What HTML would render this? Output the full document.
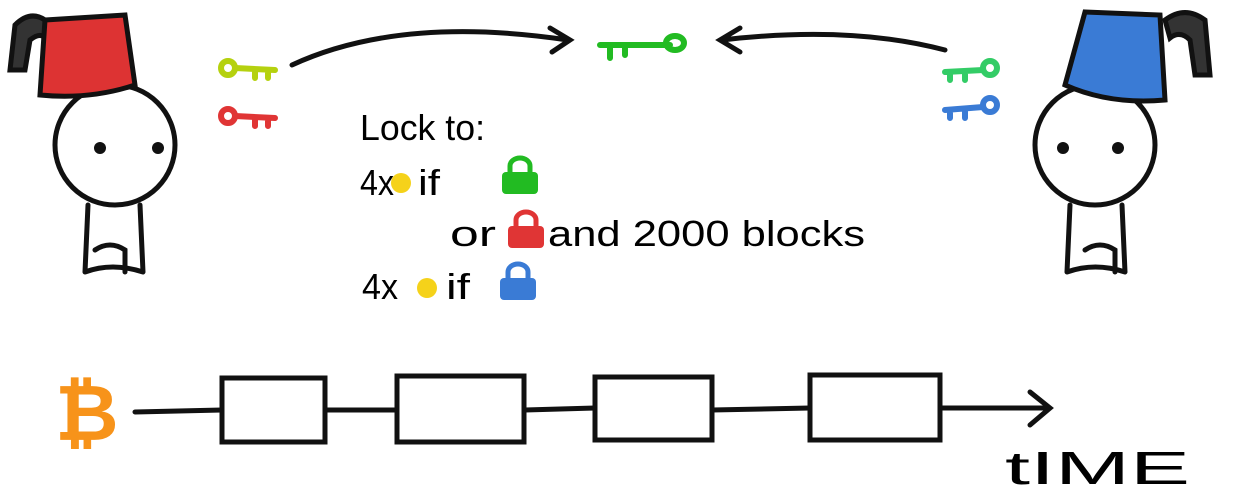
<!DOCTYPE html>
<html><head><meta charset="utf-8"><style>
html,body{margin:0;padding:0;background:#fff;}
svg{display:block;}
text{font-family:"Liberation Sans",sans-serif;fill:#000;}
</style></head><body>
<svg width="1235" height="492" viewBox="0 0 1235 492">
<g stroke="#111" stroke-width="5" fill="#fff" stroke-linecap="round">
  <path d="M88 205 L85 272 M140 205 L143 272 M85 272 Q112 262 143 272" fill="none"/>
  <path d="M95 250 Q110 240 125 250 L125 272" fill="none"/>
  <circle cx="115" cy="145" r="60"/>
  <circle cx="100" cy="148" r="6" fill="#111" stroke="none"/>
  <circle cx="158" cy="148" r="6" fill="#111" stroke="none"/>
  <path d="M45 20 Q30 10 15 25 L10 70 L25 70 L30 40 Q40 32 45 38Z" fill="#333"/>
  <path d="M45 20 L125 15 L135 85 Q90 100 40 95Z" fill="#d33"/>
</g>
<g stroke="#111" stroke-width="5" fill="#fff" stroke-linecap="round">
  <path d="M1070 205 L1067 272 M1122 205 L1125 272 M1067 272 Q1095 262 1125 272" fill="none"/>
  <path d="M1085 250 Q1100 240 1115 250 L1115 272" fill="none"/>
  <circle cx="1095" cy="145" r="60"/>
  <circle cx="1063" cy="148" r="6" fill="#111" stroke="none"/>
  <circle cx="1118" cy="148" r="6" fill="#111" stroke="none"/>
  <path d="M1165 20 Q1185 5 1205 20 L1210 75 L1195 75 L1190 40 Q1180 30 1170 38Z" fill="#333"/>
  <path d="M1085 12 L1160 15 L1165 100 Q1110 105 1065 85Z" fill="#3a7bd5"/>
</g>
<g fill="none" stroke-width="6" stroke-linecap="round">
  <g stroke="#b5d10f"><circle cx="228" cy="68" r="7"/><path d="M235 68 L275 70 M255 70 L255 78 M268 70 L268 78"/></g>
  <g stroke="#e03535"><circle cx="228" cy="116" r="7"/><path d="M235 116 L275 118 M255 118 L255 126 M268 118 L268 126"/></g>
  <g stroke="#22bb22"><path d="M600 45 L670 45 M610 45 L610 58 M625 45 L625 55"/><ellipse cx="675" cy="43" rx="9" ry="7"/></g>
  <g stroke="#33cc66"><circle cx="990" cy="68" r="7"/><path d="M983 70 L945 72 M965 72 L965 80 M950 72 L950 80"/></g>
  <g stroke="#3a7bd5"><circle cx="990" cy="105" r="7"/><path d="M983 107 L945 110 M965 110 L965 118 M950 110 L950 118"/></g>
</g>
<g fill="none" stroke="#111" stroke-width="5" stroke-linecap="round">
  <path d="M292 65 Q400 15 568 40 M550 28 L570 40 L552 52"/>
  <path d="M945 50 Q850 25 722 40 M740 28 L720 40 L740 52"/>
</g>
<g font-size="36">
  <text x="360" y="140" textLength="125" lengthAdjust="spacingAndGlyphs">Lock to:</text>
  <text x="360" y="195" textLength="34" lengthAdjust="spacingAndGlyphs">4x</text>
  <circle cx="401" cy="183" r="10" fill="#f5d21a"/>
  <text x="418" y="195" textLength="22" lengthAdjust="spacingAndGlyphs">if</text>
  <g><rect x="502" y="172" width="36" height="22" rx="4" fill="#22bb22"/><path d="M510 172 v-6 a10 8 0 0 1 20 0 v6" fill="none" stroke="#22bb22" stroke-width="5"/></g>
  <text x="450" y="246" textLength="46" lengthAdjust="spacingAndGlyphs">or</text>
  <g><rect x="508" y="226" width="36" height="22" rx="4" fill="#e03535"/><path d="M516 226 v-6 a10 8 0 0 1 20 0 v6" fill="none" stroke="#e03535" stroke-width="5"/></g>
  <text x="548" y="246" textLength="317" lengthAdjust="spacingAndGlyphs">and 2000 blocks</text>
  <text x="362" y="299" textLength="36" lengthAdjust="spacingAndGlyphs">4x</text>
  <circle cx="427" cy="288" r="10" fill="#f5d21a"/>
  <text x="446" y="299" textLength="24" lengthAdjust="spacingAndGlyphs">if</text>
  <g><rect x="500" y="278" width="36" height="22" rx="4" fill="#3a7bd5"/><path d="M508 278 v-6 a10 8 0 0 1 20 0 v6" fill="none" stroke="#3a7bd5" stroke-width="5"/></g>
</g>
<text x="55" y="440" font-size="78" font-weight="bold" style="fill:#f7931a">₿</text>
<g fill="none" stroke="#111" stroke-width="5" stroke-linecap="round">
  <path d="M135 412 L222 410 M325 410 L397 410 M525 410 L595 408 M712 410 L810 408 M940 408 L1048 408 M1030 392 L1050 408 L1030 425"/>
  <rect x="222" y="378" width="103" height="64"/>
  <rect x="397" y="376" width="127" height="66"/>
  <rect x="595" y="377" width="117" height="63"/>
  <rect x="810" y="375" width="130" height="65"/>
</g>
<text x="1005" y="484" font-size="46" textLength="185" lengthAdjust="spacingAndGlyphs">tIME</text>
</svg>
</body></html>
